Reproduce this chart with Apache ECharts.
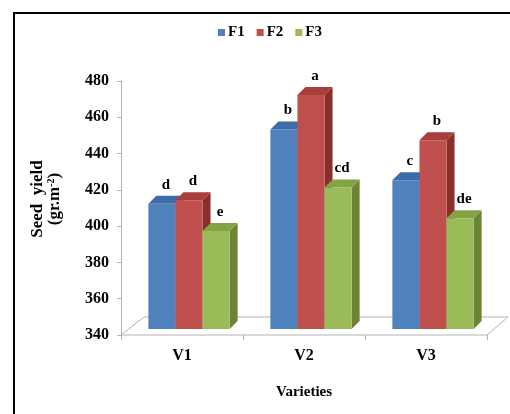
<!DOCTYPE html>
<html>
<head>
<meta charset="utf-8">
<script src="https://cdn.jsdelivr.net/npm/echarts@6/dist/echarts.min.js"></script>
<style>
html, body { margin: 0; padding: 0; background: #fff; }
#box { position: absolute; left: 13px; top: 12px; width: 520px; height: 420px; border-left: 2px solid #000; border-top: 2px solid #000; }
#chart { position: absolute; left: 0; top: 0; width: 510px; height: 414px; }
</style>
</head>
<body>
<div id="box"></div>
<div id="chart"></div>
<script>
// 数据
var varieties = ['V1', 'V2', 'V3'];
var seriesNames = ['F1', 'F2', 'F3'];
var f1Values = [409, 450, 422];
var f2Values = [411, 469, 444];
var f3Values = [394, 418, 401];
var f1Letters = ['d', 'b', 'c'];
var f2Letters = ['d', 'a', 'b'];
var f3Letters = ['e', 'cd', 'de'];
var yTicks = [340, 360, 380, 400, 420, 440, 460, 480];

var myChart;
var fontFamily = 'Liberation Serif';
// 正面 / 顶面 / 侧面
var faceColor = [
	['#4F81BD', '#3E6CA6', '#2F5887'],
	['#C0504D', '#A83F3C', '#8A2E2B'],
	['#9BBB59', '#84A444', '#6A8535']
];
var depth = 8;
var lift = 6;

function barRender(sIdx, letters) {
	return function(params, api) {
		var cat = api.value(0);
		var val = api.value(1);
		var base = api.coord([cat, yTicks[0]]);
		var top = api.coord([cat, val]);
		var catW = api.size([1, 0])[0];
		var bw = catW * 0.222;
		var x0 = base[0] + 7 + (sIdx - 1.5) * bw;
		var yb = base[1] - lift;
		var yt = top[1] - lift;
		var c = faceColor[sIdx];
		return {
			type: 'group',
			children: [{
				type: 'polygon',
				shape: { points: [[x0 + bw, yt], [x0 + bw + depth, yt - depth], [x0 + bw + depth, yb - depth], [x0 + bw, yb]] },
				style: { fill: c[2] }
			}, {
				type: 'polygon',
				shape: { points: [[x0, yt], [x0 + depth, yt - depth], [x0 + bw + depth, yt - depth], [x0 + bw, yt]] },
				style: { fill: c[1] }
			}, {
				type: 'rect',
				shape: { x: x0, y: yt, width: bw, height: yb - yt },
				style: { fill: c[0] }
			}, {
				type: 'text',
				x: x0 + bw / 2 + 4,
				y: yt - 19,
				style: {
					text: letters[params.dataIndex],
					fill: '#000',
					font: 'bold 15px ' + fontFamily,
					align: 'center',
					verticalAlign: 'middle'
				}
			}]
		};
	};
}

// 底面
function floorRender(params, api) {
	var cs = params.coordSys;
	var yf = cs.y + cs.height;
	return {
		type: 'polygon',
		shape: { points: [[cs.x, yf], [cs.x + cs.width, yf], [cs.x + cs.width + 21, yf - 18], [cs.x + 23, yf - 18]] },
		style: { fill: '#fff', stroke: '#B4B4B4', lineWidth: 1 }
	};
}

function buildSeries() {
	var lst = [f1Values, f2Values, f3Values];
	var letters = [f1Letters, f2Letters, f3Letters];
	var series = [{
		name: 'floor',
		type: 'custom',
		renderItem: floorRender,
		data: [[0, yTicks[0]]],
		silent: true,
		z: 1
	}];
	for (var i = 0; i < lst.length; i++) {
		var d = [];
		for (var j = 0; j < lst[i].length; j++) {
			d.push([j, lst[i][j]]);
		}
		series.push({
			name: seriesNames[i],
			type: 'custom',
			renderItem: barRender(i, letters[i]),
			itemStyle: { color: faceColor[i][0] },
			data: d,
			z: 2
		});
	}
	return series;
}

function chartInit() {
	myChart = echarts.init(document.getElementById('chart'));
	var option = {
		animation: false,
		legend: {
			data: seriesNames,
			top: 20,
			left: 213,
			icon: 'rect',
			itemWidth: 7,
			itemHeight: 7,
			itemGap: 12,
			textStyle: { fontFamily: fontFamily, fontWeight: 'bold', fontSize: 15, color: '#000', padding: [0, 0, 0, -2] }
		},
		grid: { left: 121, right: 23, top: 81, bottom: 79 },
		xAxis: {
			type: 'category',
			data: varieties,
			name: 'Varieties',
			nameLocation: 'middle',
			nameGap: 50,
			nameTextStyle: { fontFamily: fontFamily, fontWeight: 'bold', fontSize: 15, color: '#000' },
			axisLine: { show: false },
			axisTick: { show: true, length: 5, lineStyle: { color: '#B4B4B4' } },
			axisLabel: { fontFamily: fontFamily, fontWeight: 'bold', fontSize: 16, color: '#000', margin: 13 },
			splitLine: { show: false }
		},
		yAxis: {
			type: 'value',
			min: yTicks[0],
			max: yTicks[yTicks.length - 1],
			interval: 20,
			name: '{a|Seed  yield}\n{a|(gr.m}{s|-2}{a|)}',
			nameLocation: 'middle',
			nameRotate: 90,
			nameGap: 58,
			nameTextStyle: {
				color: '#000',
				lineHeight: 17,
				padding: [0, 0, 0, 18],
				rich: {
					a: { fontFamily: fontFamily, fontWeight: 'bold', fontSize: 17, color: '#000', lineHeight: 17 },
					s: { fontFamily: fontFamily, fontWeight: 'bold', fontSize: 10, color: '#000', verticalAlign: 'top', lineHeight: 17 }
				}
			},
			axisLine: { show: true, lineStyle: { color: '#B4B4B4' } },
			axisTick: { show: true, length: 4, lineStyle: { color: '#B4B4B4' } },
			axisLabel: { fontFamily: fontFamily, fontWeight: 'bold', fontSize: 16, color: '#000', margin: 12 },
			splitLine: { show: false }
		},
		series: buildSeries()
	};
	myChart.setOption(option);
}

chartInit();
</script>
</body>
</html>
